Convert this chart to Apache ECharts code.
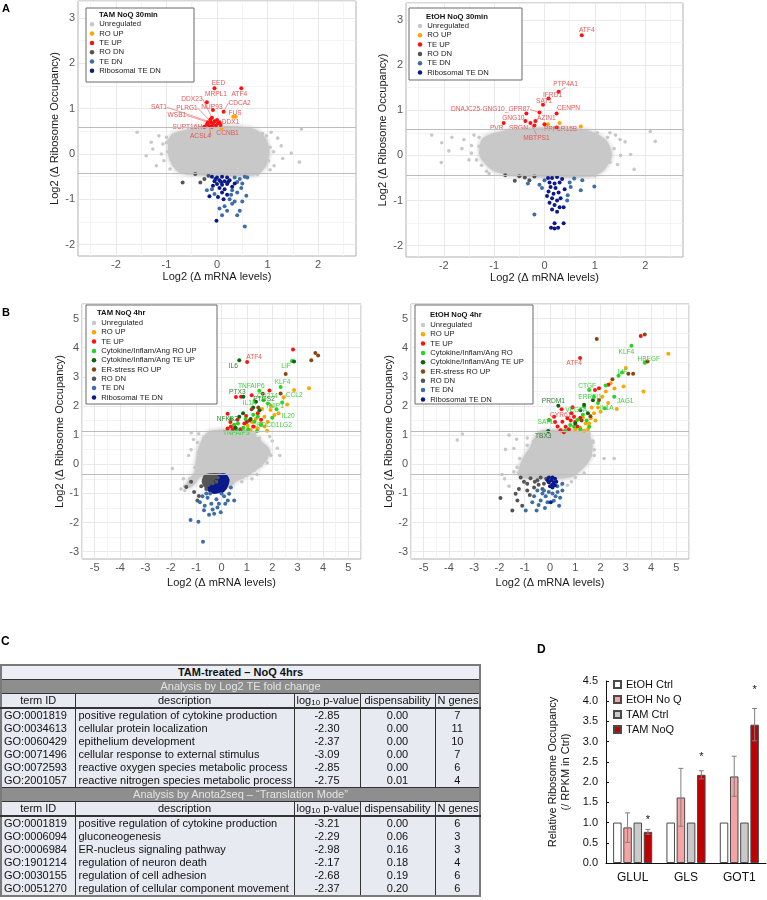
<!DOCTYPE html>
<html><head><meta charset="utf-8">
<script src="https://cdn.jsdelivr.net/npm/echarts@6/dist/echarts.min.js"></script>
<style>
html,body{margin:0;padding:0;background:#fff;}
#wrap{position:relative;width:767px;height:900px;overflow:hidden;}
#chart{position:absolute;left:0;top:0;width:767px;height:900px;}
#tbl{position:absolute;left:0;top:664px;border-collapse:collapse;font-family:'Liberation Sans',Arial,sans-serif;font-size:11px;color:#111;table-layout:fixed;width:479px;border:2px solid #7a7a7a;}
#tbl td{padding:0 2px;height:13px;line-height:13px;white-space:nowrap;overflow:hidden;background:#e8eaf2;border-left:1px solid #333;border-right:1px solid #333;}
#tbl tr.t td{font-weight:bold;text-align:center;background:#eceef5;border-bottom:1px solid #333;}
#tbl tr.s td{background:#8e8e8e;color:#e4e4e4;text-align:center;border-bottom:1px solid #333;}
#tbl tr.h td{text-align:center;border-bottom:2px solid #333;}
#tbl tr.last td{border-bottom:1px solid #333;}
#tbl td.c{text-align:center;}
#tbl td.d{padding-left:3px;}
#tbl sub{font-size:8px;vertical-align:-1px;line-height:0;}
</style></head>
<body><div id="wrap"><div id="chart"></div><table id="tbl"><colgroup><col style="width:74px"><col style="width:219px"><col style="width:66px"><col style="width:75px"><col style="width:45px"></colgroup><tbody id="tb"></tbody></table></div>
<script>
// ---------------- DATA ----------------
// Panel A left: TAM NoQ 30min
const alCore = [[-0.87,0.4],[-0.6,0.49],[-0.33,0.56],[0.33,0.57],[0.73,0.51],[0.93,0.33],[1.0,0.04],[0.93,-0.26],[0.73,-0.43],[-0.33,-0.43],[-0.73,-0.37],[-0.9,-0.11],[-0.93,0.18]];
const alUnreg = [[-1.58,0.48],[-1.3,0.26],[-1.27,0.11],[-1.07,0.22],[1.67,0.55],[1.63,-0.18],[1.47,0.02],[1.27,0.18],[1.07,0.48],[1.13,-0.26],[-1.4,-0.04],[-1.2,-0.26],[-0.93,-0.33],[-1.0,0.37],[1.2,0.35],[-1.1,0.0],[1.3,-0.1],[0.5,0.55],[-0.1,0.58],[1.05,-0.35],[-1.15,0.4],[0.9,0.45],
 [-0.95,0.3],[-0.98,0.05],[-0.85,-0.25],[-0.6,-0.42],[0,-0.44],[0.5,-0.44],[0.85,-0.38],[1.02,-0.15],[1.05,0.15],[0.98,0.4],[0.65,0.55],[0.1,0.58],[-0.45,0.55],[-0.75,0.47],[-1.05,-0.15],[1.12,0.05],[0.8,-0.45],[-0.2,0.57],[0.4,0.58],[-1.0,0.25]];
const alRoUp = [[0.32,0.82,'FUS'],[0.37,0.82],[0.09,0.57,'CCNB1']];
const alTeUp = [[-0.05,1.45,'EED'],[0.48,1.45,'ATF4'],[-0.2,1.14,'MRPL1'],[0.13,0.93,'CDCA2'],[-0.08,0.97,'NUP93'],[-0.1,0.8,'DDX23'],[-0.12,0.7,'SAT1'],[-0.08,0.66,'PLRG1'],[-0.18,0.7,'WSB1'],[-0.25,0.6,'SUPT16H'],[-0.15,0.62,'ACSL4'],[0.05,0.7,'DDX1'],[-0.2,0.65],[-0.05,0.72],[-0.02,0.63],[0.02,0.68],[-0.1,0.6],[0,0.75],[0.07,0.64],[-0.13,0.76]];
const alRoDn = [[-0.68,-0.63],[-0.33,-0.63],[-0.17,-0.48],[-0.43,-0.44],[-0.25,-0.55]];
const alTeDn = [[0.35,-0.52],[0.45,-0.55],[0.55,-0.5],[0.6,-0.52],[0.4,-0.62],[0.5,-0.65],[0.3,-0.8],[0.4,-0.85],[0.48,-0.75],[0.58,-0.92],[0.25,-1.0],[0.35,-1.05],[0.15,-1.15],[0.05,-1.2],[0.2,-1.25],[0.1,-1.35],[0.3,-1.1],[0.45,-1.25],[0.55,-1.6],[-0.1,-0.78],[-0.05,-0.88],[0.4,-1.35],[0.5,-1.05],[-0.2,-0.8],[0.28,-0.9]];
const alRibo = [[-0.1,-0.5],[0,-0.52],[0.1,-0.5],[0.2,-0.52],[0.05,-0.58],[-0.05,-0.6],[0.15,-0.6],[0.25,-0.58],[0,-0.66],[0.1,-0.68],[0.2,-0.66],[-0.08,-0.7],[0.05,-0.75],[0.15,-0.78],[0.3,-0.72],[-0.15,-0.93],[0.1,-0.85],[0.2,-0.9],[0.02,-0.95],[0.13,-1.0],[-0.01,-1.47],[0.22,-0.62],[0.35,-0.65],[-0.03,-0.55],[0.08,-0.62]];

// Panel A right: EtOH NoQ 30min
const arCore = [[-1.2,0.35],[-0.8,0.5],[-0.3,0.57],[0.4,0.57],[0.9,0.5],[1.2,0.3],[1.3,0],[1.15,-0.3],[0.9,-0.43],[-0.5,-0.43],[-1.0,-0.3],[-1.25,0]];
const arUnreg = [[-2.24,0.45],[-2.04,0.28],[-2.05,-0.16],[-1.84,0.4],[-1.64,0.15],[-1.45,0.22],[2.1,0.53],[2.2,0.31],[1.78,-0.31],[1.71,0.02],[1.51,0.0],[1.41,0.45],[1.6,0.3],[-1.25,-0.22],[-1.5,-0.1],[-1.6,0.35],[-1.4,0.45],[1.45,-0.2],[1.3,0.5],[-1.1,-0.4],[1.0,-0.45],[-1.9,0.1],
 [-1.3,0.2],[-1.35,-0.1],[-1.15,-0.35],[-0.7,-0.43],[0.2,-0.44],[0.7,-0.44],[1.05,-0.38],[1.3,-0.15],[1.38,0.15],[1.25,0.4],[1.05,0.5],[0.6,0.57],[0,0.58],[-0.55,0.55],[-1.0,0.45],[-1.45,0.05],[1.5,0.35],[-1.3,0.4]];
const arRoUp = [[0.07,0.69],[0.3,0.72],[0.72,0.64]];
const arTeUp = [[0.74,2.66,'ATF4'],[0.28,1.41,'PTP4A1'],[0.08,1.26,'IFRD1'],[-0.03,1.12,'SAT1'],[0.24,0.93,'CENPN'],[-0.36,0.93],[-0.1,0.95,'DNAJC25-GNG10_GPR87'],[-0.18,0.76,'AZIN1'],[-0.38,0.76,'GNG10'],[-0.28,0.72,'MBTPS1'],[-0.81,0.72,'PVR'],[-0.2,0.66,'SRGN'],[0,0.69],[0.24,0.62,'PPP1R15B']];
const arRoDn = [[-0.78,-0.44],[-0.59,-0.56],[-0.39,-0.49],[-0.3,-0.55],[-0.2,-0.47],[-0.5,-0.46]];
const arTeDn = [[-0.2,-1.31],[0.99,-0.69],[0.72,-0.77],[0.46,-0.88],[-0.33,-0.62],[0.59,-0.51],[-0.1,-0.65],[0.5,-0.6],[0.45,-1.0],[0.0,-0.55],[-0.05,-0.72],[0.75,-0.55],[0.52,-0.7]];
const arRibo = [[0.07,-0.5],[0.15,-0.5],[0.25,-0.48],[0.35,-0.52],[0.1,-0.6],[0.2,-0.62],[0.3,-0.6],[0.12,-0.7],[0.22,-0.72],[0.08,-0.8],[0.18,-0.85],[0.28,-0.82],[0.15,-0.95],[0.25,-1.0],[0.1,-1.05],[0.2,-1.1],[0.3,-1.15],[0.15,-1.2],[0.25,-1.25],[0.38,-1.15],[0.2,-1.5],[0.38,-1.5],[0.13,-1.6],[0.2,-1.62],[0.27,-1.6],[0.05,-0.9],[0.32,-0.95],[0.4,-0.75]];

// Panel B left: TAM NoQ 4hr
const blCore = [[-0.56,1.0],[-0.3,1.1],[1.03,1.1],[1.56,0.71],[1.83,0.48],[1.69,0.14],[1.03,-0.32],[0.5,-0.55],[0.24,-0.75],[-0.82,-0.35],[-1.15,-0.67],[-1.35,-0.75],[-1.0,-0.3],[-0.95,0.02],[-0.82,0.6]];
const blUnreg = [[-1.94,-0.15],[-1.19,1.08],[-1.1,0.85],[-1.3,0.3],[-1.5,-0.5],[2.0,0.8],[2.2,0.55],[1.95,0.3],[2.3,0.3],[1.4,-0.35],[1.2,-0.5],[0.8,-0.6],[-1.2,0.5],[-1.45,-0.9],[-1.6,-0.85],[1.9,0.95],[1.3,1.05],[-0.9,1.05],
 [-0.7,0.9],[-0.9,0.4],[-1.05,-0.1],[-1.25,-0.5],[-1.45,-0.75],[-0.4,1.08],[0.3,1.1],[0.8,1.1],[1.3,0.95],[1.7,0.6],[1.9,0.35],[1.8,0.05],[1.3,-0.2],[0.8,-0.45],[0.4,-0.65],[-0.95,0.75],[1.5,0.9],[1.55,-0.05]];
const blRoUp = [[3.45,2.61],[2.86,2.55],[2.59,2.05],[1.93,1.86],[2.09,1.69],[1.8,1.15],[1.56,1.4],[1.3,1.29],[1.15,1.18],[1.69,1.63],[1.82,1.46],[1.43,1.23],[1.03,1.32],[1.95,2.0],[2.25,1.75],[1.6,1.9],[1.35,1.55],[1.2,1.45],[2.45,2.3],[1.7,1.3]];
const blTeUp = [[2.82,3.94],[1.01,3.51,'ATF4'],[1.89,2.53],[1.19,2.37],[0.57,2.31],[0.77,2.32],[0.24,1.73],[0.97,1.66],[0.5,1.35],[0.24,1.23],[0.37,1.3],[0.63,1.53],[1.43,1.75],[1.56,1.53],[0.9,1.4],[1.1,1.5],[0.45,1.2],[0.75,1.2],[1.25,1.3],[0.35,1.45]];
const blCytoRo = [[1.49,2.52,'TNFAIP6'],[2.33,2.65,'KLF4'],[2.39,2.12,'CCL2'],[2.17,1.89,'TNIP1'],[1.3,2.17,'IL1A'],[1.65,2.2,'CD274'],[2.0,1.6,'IL20'],[1.3,1.46,'PDCD1LG2'],[0.86,1.25,'TNFAIP3'],[2.78,3.54,'LIF'],[1.83,2.09],[1.43,1.63],[0.5,1.35],[0.37,1.55],[0.95,1.55],[1.25,1.7],[0.65,1.4],[1.4,1.14],[1.05,1.2],[1.55,1.35],[0.6,1.2]];
const blCytoTe = [[0.7,3.57,'IL6'],[2.86,3.53],[0.86,2.32,'PTX3'],[1.36,2.15,'PTGS2'],[0.7,1.63,'NFKB2'],[1.15,1.55],[1.5,1.85],[0.55,1.25],[0.85,1.75],[1.25,1.95]];
const blEr = [[3.7,3.82],[3.81,3.73],[3.54,3.57],[2.53,3.1],[2.33,2.43],[1.63,2.42],[1.19,1.89],[1.0,1.45],[1.45,1.95]];
const blRoDnCore = [[-0.6,-0.4],[0.05,-0.38],[0.1,-0.5],[-0.2,-0.75],[-0.55,-0.8],[-0.7,-0.6]];
const blRoDn = [[-1.39,-0.78],[-1.08,-0.95],[-0.89,-1.09],[-0.95,-1.24],[-0.7,-0.6],[-0.6,-0.85],[-0.45,-0.5],[-0.3,-0.45],[-0.5,-0.7],[-0.2,-0.6],[-0.8,-0.75],[-0.35,-0.65],[-0.15,-0.45],[-0.65,-0.45],[-1.2,-0.6]];
const blTeDn = [[-1.22,-1.91],[-0.91,-1.97],[-0.73,-2.66],[0.5,-1.24],[0.25,-1.24],[-0.29,-1.7],[-0.49,-1.73],[-0.69,-1.58],[-0.85,-1.3],[-0.66,-1.42],[-0.16,-1.48],[-0.03,-1.65],[0.3,-1.01],[0.37,-0.8],[-0.4,-1.35],[-0.55,-1.15],[-0.2,-1.2],[0.1,-1.1],[-0.75,-1.1],[-0.35,-1.55],[-0.1,-1.35],[0.15,-1.35],[-0.45,-1.0],[-0.6,-1.0],[0.0,-1.0]];
const blRiboCore = [[-0.1,-0.42],[0.12,-0.38],[0.24,-0.55],[0.1,-0.85],[-0.3,-0.95],[-0.5,-0.85],[-0.2,-0.6]];
const blRibo = [[-0.4,-0.8],[0.2,-0.5],[0.05,-0.9],[-0.25,-0.9],[0.15,-0.7]];

// Panel B right: EtOH NoQ 4hr
const brCore = [[-0.5,0.94],[-0.3,1.1],[1.2,1.1],[1.48,1.0],[1.61,0.6],[1.48,0.14],[0.95,-0.32],[0.5,-0.42],[-0.4,-0.42],[-1.16,-0.38],[-1.03,0.14],[-0.77,0.48]];
const brUnreg = [[-3.67,0.83],[-3.47,1.04],[-1.62,1.0],[-1.32,0.86],[-1.76,0.51],[-1.43,0.54],[2.54,0.2],[2.14,0.2],[1.75,0.3],[-1.62,-0.75],[0.69,-0.72],[0.85,-0.6],[0.45,-0.7],[-1.43,-0.26],[1.25,-0.1],[-1.3,-0.1],[1.7,0.8],[-0.9,0.9],[-1.2,0.2],[1.0,-0.45],[-1.8,-0.5],[-1.9,-0.35],
 [-0.65,0.8],[-0.9,0.35],[-1.1,-0.1],[-1.25,-0.3],[-0.8,-0.44],[-0.2,-0.44],[0.3,-0.44],[0.8,-0.4],[1.2,-0.15],[1.6,0.3],[1.7,0.75],[1.55,1.05],[0.9,1.1],[0.3,1.1],[-0.4,1.05],[-0.9,0.65],[1.35,-0.3],[1.75,0.5]];
const brRoUp = [[4.68,3.79],[3.0,3.3],[2.91,2.67],[3.7,2.5],[2.64,1.9],[2.4,2.78],[2.21,2.5],[2.07,2.32],[1.9,1.95],[1.74,1.75],[1.61,1.58],[1.41,1.4],[1.2,1.25],[1.5,1.2],[1.8,1.5],[1.3,1.6],[2.3,2.1],[1.65,1.95],[1.0,1.2],[1.55,1.4],[2.0,1.8],[1.35,1.15],[1.15,1.55],[2.55,2.6]];
const brTeUp = [[3.59,4.4],[1.19,3.65,'ATF4'],[2.31,2.73],[1.94,2.61],[1.78,2.55],[0.89,1.96],[0.46,1.89,'CYR61'],[0.16,1.63],[-0.04,1.52],[0.49,1.46],[0.69,1.58],[0.95,1.63],[0.42,1.17],[0.62,1.29],[0.82,1.5],[1.08,1.3],[0.3,1.3],[0.75,1.2],[0.55,1.1],[1.0,1.45],[0.2,1.45],[0.85,1.75],[1.2,1.6]];
const brCytoRo = [[3.22,4.07,'KLF4'],[3.75,3.48,'HBEGF'],[2.71,3.04,'LIF'],[2.54,2.32,'JAG1'],[2.17,1.92,'IL1A'],[1.74,2.32,'ERRFI1'],[1.55,2.55,'CTGF'],[1.35,1.98,'VEGFA'],[-0.02,1.5,'SAT1'],[1.08,1.52],[0.95,1.3],[1.3,1.7],[1.55,1.29],[0.6,1.15],[1.2,1.2],[2.85,3.15],[2.2,2.7],[1.9,2.1],[1.45,1.5],[0.8,1.35]];
const brCytoTe = [[0.33,2.01,'PRDM1'],[-0.07,1.14,'TBX3'],[1.35,2.04],[1.2,1.85],[1.5,1.75],[1.0,1.4],[1.7,2.2]];
const brEr = [[1.85,4.3],[3.75,4.45],[3.86,3.53],[3.1,3.11],[3.29,3.11],[2.47,2.92],[1.94,2.21],[1.6,1.65],[1.25,1.5]];
const brRoDn = [[-1.96,-1.16],[-1.36,-1.01],[-1.29,-1.24],[-1.49,-1.59],[-1.1,-1.42],[-0.9,-0.9],[-1.16,-0.45],[-0.77,-0.48],[-0.5,-0.55],[-0.24,-0.67],[-0.9,-0.67],[-0.63,-0.8],[-0.37,-0.45],[-1.03,-0.6],[-1.23,-0.85],[-0.6,-0.6],[-0.3,-0.85],[-0.8,-1.05],[-0.45,-0.7],[-0.15,-0.5]];
const brTeDn = [[-0.96,-1.59],[-0.53,-1.59],[0.36,-1.42],[0.49,-0.9],[-0.17,-1.1],[-0.37,-1.24],[-0.63,-1.1],[-0.1,-1.3],[-0.5,-0.9],[0.22,-1.1],[-0.24,-0.9],[0.29,-0.75],[0.49,-0.67],[-0.7,-1.3],[-0.3,-1.0],[0.1,-1.0],[0.3,-0.95],[-0.05,-0.95],[-0.45,-1.4],[0.15,-1.25],[-0.2,-1.5],[0.4,-1.15]];
const brRibo = [[-0.04,-0.45],[0.1,-0.45],[0.2,-0.5],[0.05,-0.55],[-0.05,-0.62],[0.15,-0.62],[0.08,-0.7],[0.0,-0.75],[0.2,-0.72],[0.1,-0.8],[0.03,-1.3],[-0.1,-0.55],[0.25,-0.6]];

// threshold lines
const aThresh = [0.585, -0.43];
const bThresh = [1.13, -0.35];

// Panel C table
const teRows = [
 ['GO:0001819','positive regulation of cytokine production','-2.85','0.00','7'],
 ['GO:0034613','cellular protein localization','-2.30','0.00','11'],
 ['GO:0060429','epithelium development','-2.37','0.00','10'],
 ['GO:0071496','cellular response to external stimulus','-3.09','0.00','7'],
 ['GO:0072593','reactive oxygen species metabolic process','-2.85','0.00','6'],
 ['GO:2001057','reactive nitrogen species metabolic process','-2.75','0.01','4']];
const anotaRows = [
 ['GO:0001819','positive regulation of cytokine production','-3.21','0.00','6'],
 ['GO:0006094','gluconeogenesis','-2.29','0.06','3'],
 ['GO:0006984','ER-nucleus signaling pathway','-2.98','0.16','3'],
 ['GO:1901214','regulation of neuron death','-2.17','0.18','4'],
 ['GO:0030155','regulation of cell adhesion','-2.68','0.19','6'],
 ['GO:0051270','regulation of cellular component movement','-2.37','0.20','6']];

// Panel D bars
const dGenes = ['GLUL','GLS','GOT1'];
const dEtohCtrl = [1.0,1.0,1.0];
const dEtohNoQ = [0.88,1.62,2.14];
const dTamCtrl = [1.0,1.0,1.0];
const dTamNoQ = [0.77,2.18,3.42];
const dEtohNoQErr = [[0.51,1.24],[0.91,2.34],[1.65,2.64]];
const dTamNoQErr = [[0.71,0.83],[2.08,2.28],[3.02,3.82]];
const dSigY = [1.07,2.62,4.28];

// ---------------- TABLE ----------------
(function(){
  const hdr = '<tr class="h"><td class="c">term ID</td><td class="c">description</td><td class="c">log<sub>10</sub> p-value</td><td class="c">dispensability</td><td class="c">N genes</td></tr>';
  const row = (r,last) => '<tr'+(last?' class="last"':'')+'><td>'+r[0]+'</td><td class="d">'+r[1]+'</td><td class="c">'+r[2]+'</td><td class="c">'+r[3]+'</td><td class="c">'+r[4]+'</td></tr>';
  let h = '<tr class="t"><td colspan="5">TAM-treated – NoQ 4hrs</td></tr>';
  h += '<tr class="s"><td colspan="5">Analysis by Log2 TE fold change</td></tr>' + hdr + teRows.map((r,i)=>row(r,i===teRows.length-1)).join('');
  h += '<tr class="s"><td colspan="5">Analysis by Anota2seq – “Translation Mode”</td></tr>' + hdr + anotaRows.map((r,i)=>row(r,i===anotaRows.length-1)).join('');
  document.getElementById('tb').innerHTML = h;
})();

// ---------------- CHART ----------------
const FONT = "'Liberation Sans', Arial, sans-serif";
const COL = {unreg:'#c8c8c8', roUp:'#ffa500', teUp:'#ff1111', cytoRo:'#22d622', cytoTe:'#0a640a', er:'#8b4513', roDn:'#555555', teDn:'#3d6fa6', ribo:'#0b1a8a'};
const LABCOL = {teUp:'#e65656', roUp:'#e65656', cytoRo:'#3fcf3f', cytoTe:'#2f7f2f'};
const MAJ = '#e3e3e3', MINC = '#f1f1f1';

const panels = [
 {grid:{left:78, top:1, width:278, height:255}, x:[-2.75,2.75], y:[-2.25,3.375], th:aThresh, core:alCore,
  xGap:14, yGap:17.5,
  cats:[['Unregulated','unreg',alUnreg],['RO UP','roUp',alRoUp],['TE UP','teUp',alTeUp],['RO DN','roDn',alRoDn],['TE DN','teDn',alTeDn],['Ribosomal TE DN','ribo',alRibo]],
  offs:{EED:[4,-5],ATF4:[-2,6],MRPL1:[9,-8],CDCA2:[16,-9,1],NUP93:[-1,-3],DDX23:[-20,-19,1],SAT1:[-52,-15,1],PLRG1:[-26,-16,1],WSB1:[-31,-7,1],SUPT16H:[-17,0],ACSL4:[-9,10,1],DDX1:[11,0,1],FUS:[2,-4],CCNB1:[6,5]},
  leg:{left:89.75, top:19.8, box:[86,8,108,74], title:'TAM NoQ 30min', tx:99, ty:15}},
 {grid:{left:406, top:3, width:277, height:254}, x:[-2.75,2.75], y:[-2.25,3.375], th:aThresh, core:arCore,
  xGap:14, yGap:17.5,
  cats:[['Unregulated','unreg',arUnreg],['RO UP','roUp',arRoUp],['TE UP','teUp',arTeUp],['RO DN','roDn',arRoDn],['TE DN','teDn',arTeDn],['Ribosomal TE DN','ribo',arRibo]],
  offs:{ATF4:[5,-5],PTP4A1:[7,-8,1],IFRD1:[4,-3],SAT1:[1,-4],CENPN:[12,-5],'DNAJC25-GNG10_GPR87':[-49,-3,1],GNG10:[-12,-3],AZIN1:[11,-3],PVR:[-7,5],SRGN:[-16,3],MBTPS1:[6,15,1],PPP1R15B:[4,2]},
  leg:{left:417.75, top:21.5, box:[409,8,113,72], title:'EtOH NoQ 30min', tx:426, ty:17}},
 {grid:{left:82, top:304, width:279, height:255}, x:[-5.5,5.5], y:[-3.25,5.5], th:bThresh, core:blCore,
  xGap:18, yGap:16.5, subCores:[[blRoDnCore,'roDn',4],[blRiboCore,'ribo',4]],
  cats:[['Unregulated','unreg',blUnreg],['RO UP','roUp',blRoUp],['TE UP','teUp',blTeUp],['Cytokine/Inflam/Ang RO UP','cytoRo',blCytoRo],['Cytokine/Inflam/Ang TE UP','cytoTe',blCytoTe],['ER-stress RO UP','er',blEr],['RO DN','roDn',blRoDn],['TE DN','teDn',blTeDn],['Ribosomal TE DN','ribo',blRibo]],
  offs:{ATF4:[7,-5],IL6:[-6,6],LIF:[-6,5],TNFAIP6:[-8,-5],KLF4:[2,-5],PTX3:[-6,-5],CD274:[4,-4],CCL2:[12,-7,1],PTGS2:[8,-2],IL1A:[-5,2],TNIP1:[-2,-3],NFKB2:[-12,2],IL20:[16,-1],PDCD1LG2:[20,3,1],TNFAIP3:[-7,5]},
  leg:{left:91.75, top:318.5, box:[86,305,131,99], title:'TAM NoQ 4hr', tx:97, ty:313}},
 {grid:{left:411, top:304, width:278, height:255}, x:[-5.5,5.5], y:[-3.25,5.5], th:bThresh, core:brCore,
  xGap:18, yGap:16.5,
  cats:[['Unregulated','unreg',brUnreg],['RO UP','roUp',brRoUp],['TE UP','teUp',brTeUp],['Cytokine/Inflam/Ang RO','cytoRo',brCytoRo],['Cytokine/Inflam/Ang TE UP','cytoTe',brCytoTe],['ER-stress RO UP','er',brEr],['RO DN','roDn',brRoDn],['TE DN','teDn',brTeDn],['Ribosomal TE DN','ribo',brRibo]],
  offs:{ATF4:[-6,5],KLF4:[-5,6],HBEGF:[4,-4],LIF:[4,-4],CTGF:[-2,-4],ERRFI1:[-4,0],PRDM1:[-5,-5],JAG1:[11,4],IL1A:[2,0],VEGFA:[-8,4],CYR61:[-1,6],SAT1:[-4,2],TBX3:[-5,5]},
  leg:{left:420.75, top:320.5, box:[415,305,118,99], title:'EtOH NoQ 4hr', tx:430, ty:315}}
];

const isInt = v => Math.abs(v - Math.round(v)) < 1e-6;
function gridColors(min){
  const arr = [];
  for (let i = 0; i < 4; i++) {
    const v = min + i * 0.25;
    const f = v - Math.floor(v + 1e-9);
    arr.push(Math.abs(f) < 1e-6 ? MAJ : (Math.abs(f - 0.5) < 1e-6 ? MINC : 'rgba(0,0,0,0)'));
  }
  return arr;
}

const grids = [], xAxes = [], yAxes = [], series = [], legends = [], graphics = [];

function coreSeries(pi, pts, color, lw, blur){
  return {type:'custom', xAxisIndex:pi, yAxisIndex:pi, silent:true, clip:true, animation:false, z:2,
    data: pts.map(p => [p[0], p[1]]),
    encode:{x:0, y:1},
    renderItem:(params, api) => {
      if (params.dataIndex !== 0) return null;
      const poly = pts.map(p => api.coord(p));
      return {type:'polygon', shape:{points:poly, smooth:0.25}, style:{fill:color, stroke:color, lineWidth:lw, lineJoin:'round', shadowBlur:blur, shadowColor:color}};
    }};
}

panels.forEach((p, pi) => {
  grids.push(Object.assign({show:true, borderColor:'#b0b0b0', borderWidth:1, backgroundColor:'#fff'}, p.grid));
  xAxes.push({type:'value', gridIndex:pi, min:p.x[0], max:p.x[1], interval:0.25,
    name:'Log2 (Δ mRNA levels)', nameLocation:'middle', nameGap:p.xGap,
    nameTextStyle:{fontSize:11, color:'#1a1a1a', fontFamily:FONT},
    axisLine:{show:false}, axisTick:{show:false},
    axisLabel:{fontSize:11, color:'#555', fontFamily:FONT, margin:3.5, formatter:v => isInt(v) ? String(Math.round(v)) : ''},
    splitLine:{show:true, lineStyle:{color:gridColors(p.x[0]), width:0.8}}});
  yAxes.push({type:'value', gridIndex:pi, min:p.y[0], max:p.y[1], interval:0.25,
    name:'Log2 (Δ Ribosome Occupancy)', nameLocation:'middle', nameGap:p.yGap, nameRotate:90,
    nameTextStyle:{fontSize:11, color:'#1a1a1a', fontFamily:FONT},
    axisLine:{show:false}, axisTick:{show:false},
    axisLabel:{fontSize:11, color:'#555', fontFamily:FONT, margin:3, formatter:v => isInt(v) ? String(Math.round(v)) : ''},
    splitLine:{show:true, lineStyle:{color:gridColors(p.y[0]), width:0.8}}});

  series.push(coreSeries(pi, p.core, COL.unreg, 4, 5));
  p.cats.forEach((c, ci) => {
    const [name, key, pts] = c;
    if (key === 'roDn' && p.subCores) { const sc = p.subCores.find(s => s[1] === 'roDn'); series.push(coreSeries(pi, sc[0], COL.roDn, sc[2], 0)); }
    if (key === 'ribo' && p.subCores) { const sc = p.subCores.find(s => s[1] === 'ribo'); series.push(coreSeries(pi, sc[0], COL.ribo, sc[2], 0)); }
    const offs = p.offs;
    const lc = LABCOL[key] || '#e65656';
    const s = {type:'scatter', name:name, xAxisIndex:pi, yAxisIndex:pi, symbolSize: key === 'unreg' ? 3.6 : 4, z:2,
      itemStyle:{color:COL[key], opacity:1}, animation:false, emphasis:{disabled:true},
      data: pts.map(q => {
        const it = {value:[q[0], q[1]]};
        if (q[2]) { it.name = q[2]; it.label = {show:true}; const o = offs[q[2]]; if (o && o[2]) it.labelLine = {show:true}; }
        return it;
      }),
      label:{show:false, position:'inside', formatter:'{b}', fontSize:6.6, color:lc, fontFamily:FONT},
      labelLine:{show:false, length2:0, smooth:false, lineStyle:{color:lc, width:0.6}},
      labelLayout:(params) => { const o = offs[params.text]; return o ? {dx:o[0], dy:o[1]} : {}; }
    };
    if (key === 'unreg') {
      s.markLine = {silent:true, symbol:'none', animation:false, label:{show:false},
        lineStyle:{color:'#bcbcbc', width:1.2, type:'solid'},
        data:p.th.map(v => ({yAxis:v}))};
    }
    series.push(s);
  });

  legends.push({orient:'vertical', left:p.leg.left, top:p.leg.top, padding:0, itemWidth:4.5, itemHeight:4.5, itemGap:0.3,
    icon:'circle', selectedMode:false, z:8,
    data:p.cats.map(c => c[0]),
    textStyle:{fontSize:7.7, lineHeight:9, color:'#222', fontFamily:FONT}});
  const b = p.leg.box;
  graphics.push({type:'rect', shape:{x:b[0], y:b[1], width:b[2], height:b[3]}, style:{fill:'#fff', stroke:'#6a6a6a', lineWidth:1}, z:7, silent:true});
  graphics.push({type:'text', x:p.leg.tx, y:p.leg.ty, style:{text:p.leg.title, fill:'#111', font:'bold 7.7px ' + FONT, verticalAlign:'middle'}, z:9, silent:true});
});

// Panel D
const di = 4;
grids.push({left:606, top:681, width:160, height:182});
xAxes.push({type:'category', gridIndex:di, data:dGenes,
  axisLine:{show:true, lineStyle:{color:'#111', width:1}}, axisTick:{show:false},
  axisLabel:{fontSize:12, color:'#111', fontFamily:FONT, margin:9}});
yAxes.push({type:'value', gridIndex:di, min:0, max:4.5, interval:0.5,
  name:'Relative Ribosome Occupancy\n(/ RPKM in Ctrl)', nameLocation:'middle', nameGap:34, nameRotate:90,
  nameTextStyle:{fontSize:11, color:'#111', fontFamily:FONT, lineHeight:13},
  axisLine:{show:true, lineStyle:{color:'#111', width:1}}, axisTick:{show:true, inside:true, length:3, lineStyle:{color:'#111'}},
  axisLabel:{fontSize:11, color:'#111', fontFamily:FONT, margin:8, formatter:v => v.toFixed(1)},
  splitLine:{show:false}});
const barDefs = [['EtOH Ctrl', dEtohCtrl, '#ffffff'], ['EtOH No Q', dEtohNoQ, '#f6a3a3'], ['TAM Ctrl', dTamCtrl, '#c9c9c9'], ['TAM NoQ', dTamNoQ, '#c00000']];
barDefs.forEach(b => series.push({type:'bar', name:b[0], xAxisIndex:di, yAxisIndex:di, data:b[1], barWidth:8.5, barGap:'20%',
  itemStyle:{color:b[2], borderColor:'#4a4a4a', borderWidth:1}, animation:false, emphasis:{disabled:true}}));
const BAR_OFF = [-15.3, -5.1, 5.1, 15.3];
const errData = [];
dEtohNoQErr.forEach((e, i) => errData.push([i, e[0], e[1], 1, -1]));
dTamNoQErr.forEach((e, i) => errData.push([i, e[0], e[1], 3, dSigY[i]]));
series.push({type:'custom', xAxisIndex:di, yAxisIndex:di, data:errData, z:5, animation:false, silent:true,
  encode:{x:0, y:[1,2]},
  renderItem:(params, api) => {
    const c = api.value(0), off = BAR_OFF[api.value(3)];
    const lo = api.coord([c, api.value(1)]), hi = api.coord([c, api.value(2)]);
    const x = lo[0] + off, cw = 2.5;
    const st = {stroke:'#7f7f7f', lineWidth:1};
    const ch = [
      {type:'line', shape:{x1:x, y1:lo[1], x2:x, y2:hi[1]}, style:st},
      {type:'line', shape:{x1:x-cw, y1:lo[1], x2:x+cw, y2:lo[1]}, style:st},
      {type:'line', shape:{x1:x-cw, y1:hi[1], x2:x+cw, y2:hi[1]}, style:st}];
    const sy = api.value(4);
    if (sy > 0) { const sp = api.coord([c, sy]); ch.push({type:'text', x:sp[0]+off, y:sp[1], style:{text:'*', fill:'#111', align:'center', verticalAlign:'middle', font:'11px ' + FONT}}); }
    return {type:'group', children:ch};
  }});
legends.push({orient:'vertical', left:613, top:678, padding:0, itemWidth:7, itemHeight:7, itemGap:2, icon:'rect', selectedMode:false,
  data:barDefs.map(b => b[0]), textStyle:{fontSize:11, lineHeight:13, color:'#111', fontFamily:FONT}});

// panel letters
[['A',2,3,11],['B',2,307,11],['C',1,636,12],['D',537,644,12]].forEach(l =>
  graphics.push({type:'text', x:l[1], y:l[2], style:{text:l[0], font:'bold ' + l[3] + 'px ' + FONT, fill:'#000'}, z:10, silent:true}));

const chart = echarts.init(document.getElementById('chart'), null, {renderer:'canvas'});
chart.setOption({animation:false, backgroundColor:'#fff', textStyle:{fontFamily:FONT},
  grid:grids, xAxis:xAxes, yAxis:yAxes, series:series, legend:legends, graphic:{elements:graphics}});
</script>
</body></html>
